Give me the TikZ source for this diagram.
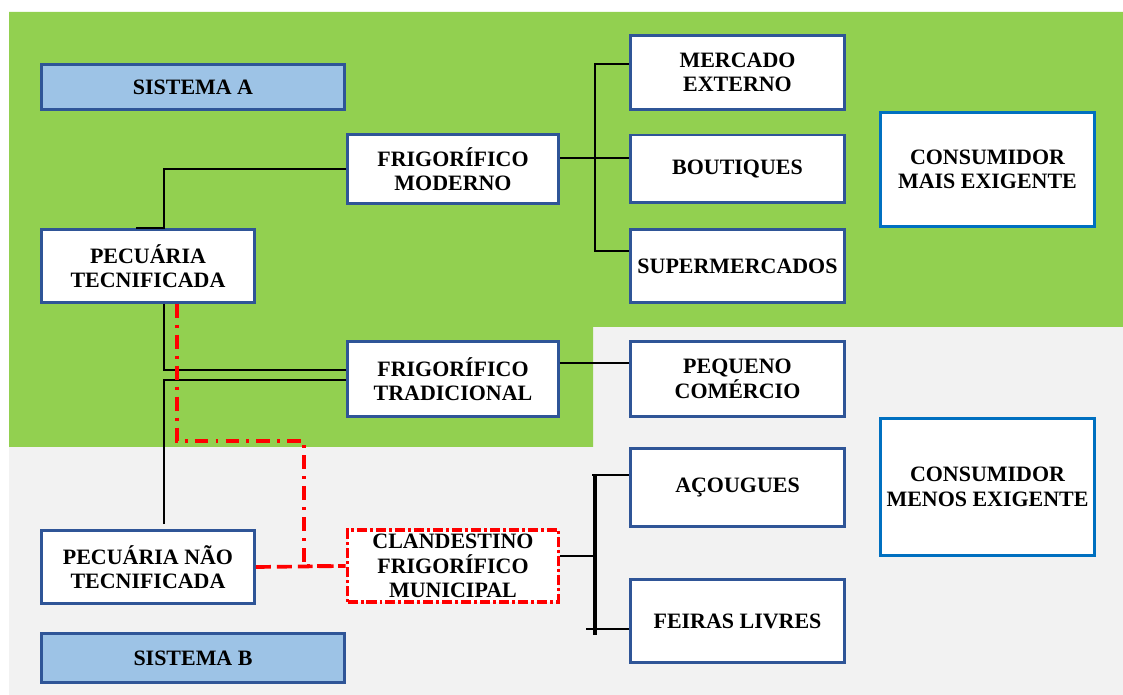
\documentclass[tikz,border=0pt]{standalone}
\usepackage{fontspec}
\setmainfont{Liberation Serif}
\usetikzlibrary{positioning}

\definecolor{fieldgreen}{HTML}{92D050}
\definecolor{fieldgray}{HTML}{F2F2F2}
\definecolor{boxblue}{HTML}{2F5597}
\definecolor{tagblue}{HTML}{9DC3E6}
\definecolor{consblue}{HTML}{0070C0}

\begin{document}
\begin{tikzpicture}[x=0.02cm, y=-0.02cm,
  font=\fontsize{12.5}{14}\selectfont\bfseries,
  box/.style={draw=boxblue, line width=1.7pt, fill=white, align=center, inner sep=0pt},
  midbox/.style={box, minimum width=4.22cm},
  outbox/.style={box, minimum width=4.28cm},
  farmbox/.style={box, minimum width=4.26cm, minimum height=1.46cm},
  tagbox/.style={box, fill=tagblue, minimum width=6.06cm},
  consbox/.style={box, draw=consblue, line width=1.9pt, minimum width=4.28cm},
  link/.style={draw, line width=1.6pt},
  bar/.style={draw, line width=2.2pt},
  illegal/.style={draw=red, line width=2.1pt, dash pattern=on 7.9pt off 4pt on 1.7pt off 4pt},
  illegaldash/.style={draw=red, line width=2.1pt, dash pattern=on 8.5pt off 3.4pt}]
\useasboundingbox (0,0) rectangle (1123,695);
% background fields
\fill[white] (0,0) rectangle (1123,695);
\fill[fieldgray] (9,12) rectangle (1123,695);
\fill[fieldgreen] (9,12) -- (1123,12) -- (1123,327) -- (593,327) -- (593,447) -- (9,447) -- cycle;

% system tags
\node[tagbox, minimum height=0.9cm] (sisA) at (193,87) {SISTEMA A};
\node[tagbox, minimum height=0.98cm] (sisB) at (193,658) {SISTEMA B};

% producers
\node[farmbox] (pecTec) at (148,266) {PECUÁRIA\\TECNIFICADA};
\node[farmbox] (pecNao) at (148,567) {PECUÁRIA NÃO\\TECNIFICADA};

% slaughterhouses
\node[midbox, minimum height=1.38cm] (frigMod) at (453,169) {FRIGORÍFICO\\MODERNO};
\node[midbox, minimum height=1.5cm] (frigTrad) at (453,379) {FRIGORÍFICO\\TRADICIONAL};
\node[midbox, minimum height=1.44cm, draw=red, line width=2.1pt,
  dash pattern=on 5.7pt off 1.7pt on 1.7pt off 1.7pt] (clandest) at (453,566)
  {CLANDESTINO\\FRIGORÍFICO\\MUNICIPAL};

% outlets
\node[outbox, minimum height=1.48cm] (mercExt) at (737.5,72.5) {MERCADO\\EXTERNO};
\node[outbox, minimum height=1.36cm] (bout) at (737.5,169) {BOUTIQUES};
\node[outbox, minimum height=1.46cm] (superm) at (737.5,266) {SUPERMERCADOS};
\node[outbox, minimum height=1.5cm] (pequeno) at (737.5,379) {PEQUENO\\COMÉRCIO};
\node[outbox, minimum height=1.56cm] (acougues) at (737.5,487.5) {AÇOUGUES};
\node[outbox, minimum height=1.66cm] (feiras) at (737.5,621) {FEIRAS LIVRES};

% consumers
\node[consbox, minimum height=2.28cm] (consMais) at (987.5,169.5) {CONSUMIDOR\\MAIS EXIGENTE};
\node[consbox, minimum height=2.74cm] (consMenos) at (987.5,487) {CONSUMIDOR\\MENOS EXIGENTE};

% junction points
\coordinate (upbar) at (595,158);
\coordinate (lowtop) at (595,475);
\coordinate (lowbot) at (595,635);

% system A links
\draw[link] (frigMod.west) -| ([xshift=0.32cm]pecTec.north) -- ++(-28,0);
\draw[link] ([xshift=0.32cm]pecTec.south) |- ([yshift=0.18cm]frigTrad.west);
\draw[link] ([xshift=0.32cm,yshift=0.1cm]pecNao.north) |- ([yshift=-0.02cm]frigTrad.west);
\draw[link] ([yshift=0.22cm]frigMod.east) -- ([yshift=0.22cm]bout.west);
\draw[link] ([yshift=0.17cm]mercExt.west) -| (upbar) |- ([yshift=0.3cm]superm.west);
\draw[link] ([yshift=0.32cm]frigTrad.east) -- ([yshift=0.32cm]pequeno.west);

% system B links
\draw[bar] (lowtop) -- (lowbot);
\draw[link] ([yshift=0.25cm]acougues.west) -- ++(-37,0);
\draw[link] ([yshift=-0.16cm]feiras.west) -- ++(-43,0);
\draw[link] ([yshift=0.2cm]clandest.east) -- ++(35,0);

% informal channel
\coordinate (leak) at (304,441);
\draw[illegal] ([xshift=0.58cm]pecTec.south) |- (leak) |- ([xshift=-0.04cm]clandest.west);
\draw[illegaldash] (pecNao.east) -- (clandest.west);
\end{tikzpicture}
\end{document}
